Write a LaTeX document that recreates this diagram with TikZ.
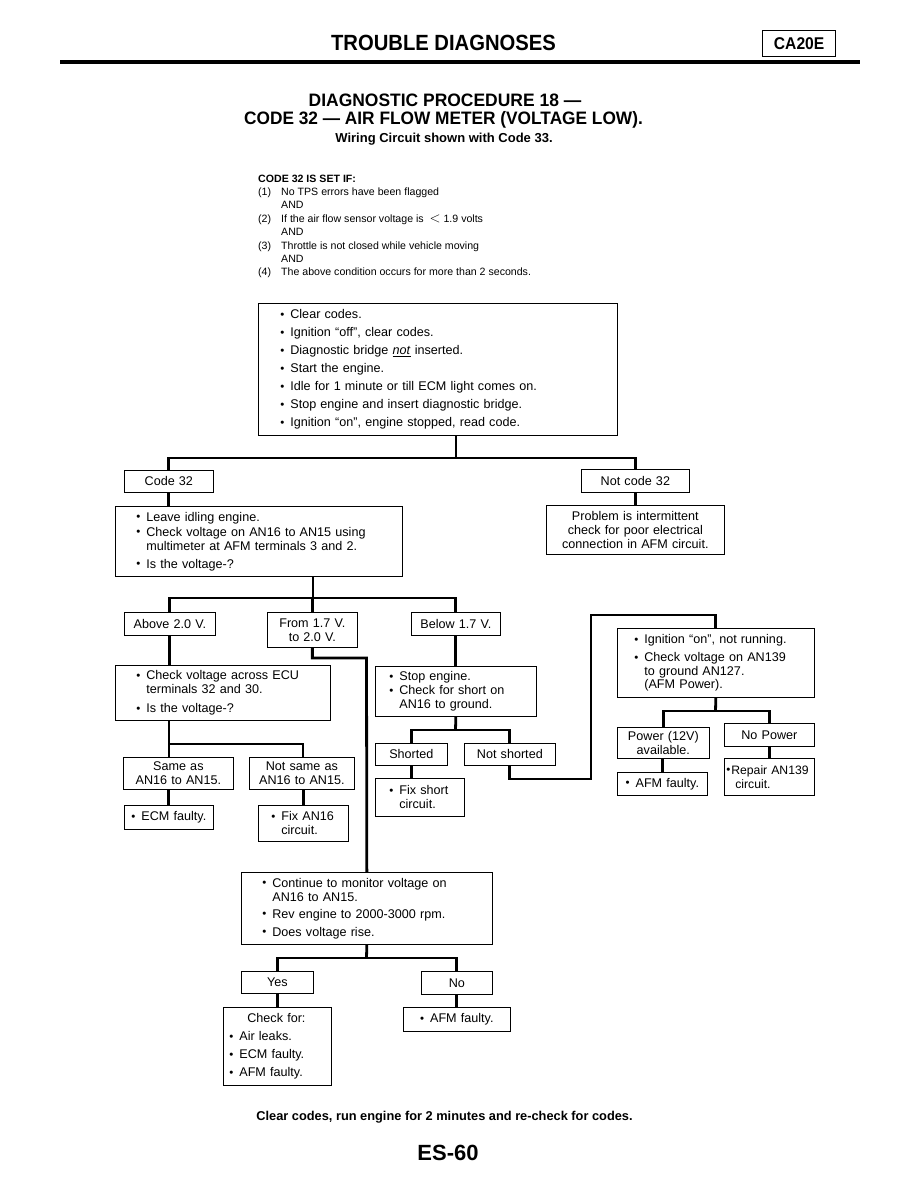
\documentclass[tikz,border=0pt]{standalone}
\usepackage{fontspec}
\setmainfont{Liberation Sans}
\newcommand\fz[2]{\fontsize{#1}{#2}\selectfont}
\newcommand\bul{\makebox[10pt][l]{\raisebox{0.4pt}{\fontsize{11.5}{11.5}\selectfont •}}}
\newcommand\ind{\hspace*{10pt}}
\tikzset{
  box/.style={draw, line width=0.7pt, inner ysep=0pt, anchor=north west, font=\fz{12.6}{14}},
  lbox/.style={box, align=left},
  cbox/.style={box, align=center, inner xsep=2pt},
  conn/.style={line width=2.8pt, line join=miter},
  cond/.style={anchor=base west, inner sep=0pt, font=\fz{10.6}{10.6}},
}
\begin{document}
\begin{tikzpicture}[x=1pt,y=-1pt]
\useasboundingbox (0,0) rectangle (918,1188);
\fill[white] (0,0) rectangle (918,1188);

% header
\node[font=\bfseries\fz{22}{22}] (hdr) at (443.5,43) {\scalebox{0.92}[1]{TROUBLE DIAGNOSES}};
\node[draw, line width=1.3pt, minimum width=73pt, minimum height=26pt, inner sep=0pt, anchor=north west, font=\bfseries\fz{17}{17}] (ca) at (762,30) {\scalebox{0.92}[1]{CA20E}};
\coordinate (r1) at (60,62); \coordinate (r2) at (860,62);
\draw[line width=3.2pt] (r1) -- (r2);

\node[font=\bfseries\fz{18}{18}] (t1) at (445,100) {\scalebox{0.97}[1]{DIAGNOSTIC PROCEDURE 18 —}};
\node[font=\bfseries\fz{18}{18}] (t2) at (443.5,120) {\scalebox{0.96}[1]{CODE 32 — AIR FLOW METER (VOLTAGE LOW).}};
\node[font=\bfseries\fz{13}{13}] (t3) at (444,139) {Wiring Circuit shown with Code 33.};

% conditions
\node[cond, font=\bfseries\fz{10.6}{10.6}] (c0) at (258,182) {CODE 32 IS SET IF:};
\node[cond] (n1) at (258,195) {(1)}; \node[cond] (l1) at (281,195) {No TPS errors have been flagged};
\node[cond] (a1) at (281,208) {AND};
\node[cond] (n2) at (258,222) {(2)}; \node[cond] (l2) at (281,222) {If the air flow sensor voltage is \ {\fz{14}{14}$<$}\ 1.9 volts};
\node[cond] (a2) at (281,235) {AND};
\node[cond] (n3) at (258,249) {(3)}; \node[cond] (l3) at (281,249) {Throttle is not closed while vehicle moving};
\node[cond] (a3) at (281,262) {AND};
\node[cond] (n4) at (258,275) {(4)}; \node[cond] (l4) at (281,275) {The above condition occurs for more than 2 seconds.};

% boxes
\node[lbox, font=\fz{12.6}{18}, minimum width=359pt, minimum height=132pt, inner xsep=22pt, text width=315pt] (box1) at (258,303)
 {\bul Clear codes.\\ \bul Ignition “off”, clear codes.\\ \bul Diagnostic bridge \underline{\textit{not}} inserted.\\ \bul Start the engine.\\ \bul Idle for 1 minute or till ECM light comes on.\\ \bul Stop engine and insert diagnostic bridge.\\ \bul Ignition “on”, engine stopped, read code.};

\node[cbox, minimum width=89pt, minimum height=22pt, text width=85pt] (code32) at (124,470) {Code 32};
\node[cbox, minimum width=108pt, minimum height=23pt, text width=104pt] (notcode) at (581,469) {Not code 32};

\node[lbox, minimum width=287pt, minimum height=70pt, inner xsep=21pt, text width=245pt] (box2) at (115,506)
 {\bul Leave idling engine.\\[1pt] \bul Check voltage on AN16 to AN15 using\\ \ind multimeter at AFM terminals 3 and 2.\\[4pt] \bul Is the voltage-?};
\node[cbox, minimum width=178pt, minimum height=49pt, text width=174pt] (problem) at (546,505)
 {Problem is intermittent\\check for poor electrical\\connection in AFM circuit.};

\node[cbox, minimum width=91pt, minimum height=23pt, text width=87pt] (above) at (124,612) {Above 2.0 V.};
\node[cbox, minimum width=90pt, minimum height=35pt, text width=86pt] (from) at (267,612) {From 1.7 V.\\to 2.0 V.};
\node[cbox, minimum width=89pt, minimum height=23pt, text width=85pt] (below) at (411,612) {Below 1.7 V.};

\node[lbox, minimum width=215pt, minimum height=55pt, inner xsep=21pt, text width=173pt] (ecu) at (115,665)
 {\bul Check voltage across ECU\\ \ind terminals 32 and 30.\\[5pt] \bul Is the voltage-?};
\node[lbox, minimum width=161pt, minimum height=50pt, inner xsep=14pt, text width=133pt] (stop) at (375,666)
 {\bul Stop engine.\\ \bul Check for short on\\ \ind AN16 to ground.};

\node[cbox, minimum width=110pt, minimum height=32pt, text width=106pt] (same) at (123,757) {Same as\\AN16 to AN15.};
\node[cbox, minimum width=105pt, minimum height=32pt, text width=101pt] (notsame) at (249,757) {Not same as\\AN16 to AN15.};
\node[cbox, minimum width=89pt, minimum height=24pt, text width=85pt] (ecm) at (124,805) {\bul ECM faulty.};
\node[lbox, minimum width=90pt, minimum height=36pt, inner xsep=13pt, text width=64pt] (fix16) at (258,805) {\bul Fix AN16\\ \ind circuit.};

\node[cbox, minimum width=72pt, minimum height=22pt, text width=68pt] (shorted) at (375,743) {Shorted};
\node[cbox, minimum width=91pt, minimum height=22pt, text width=87pt] (notshorted) at (464,743) {Not shorted};
\node[lbox, minimum width=89pt, minimum height=38pt, inner xsep=14pt, text width=61pt] (fixshort) at (375,778) {\bul Fix short\\ \ind circuit.};

\node[lbox, font=\fz{12.6}{13.5}, minimum width=197pt, minimum height=69pt, inner xsep=17pt, text width=163pt] (ign) at (617,628)
 {\bul Ignition “on”, not running.\\[4.5pt] \bul Check voltage on AN139\\ \ind to ground AN127.\\ \ind (AFM Power).};
\node[cbox, minimum width=92pt, minimum height=31pt, text width=88pt] (power) at (617,727) {Power (12V)\\available.};
\node[cbox, minimum width=90pt, minimum height=23pt, text width=86pt] (nopower) at (724,723) {No Power};
\node[cbox, minimum width=90pt, minimum height=23pt, text width=86pt] (afm1) at (617,772) {\bul AFM faulty.};
\node[lbox, font=\fz{12.2}{14}, minimum width=90pt, minimum height=37pt, inner xsep=2pt, text width=86pt] (repair) at (724,758)
 {\mbox{\makebox[5pt][l]{\raisebox{0.4pt}{\fontsize{11.5}{11.5}\selectfont •}}Repair AN139}\\ \hspace*{9pt}circuit.};

\node[lbox, minimum width=251pt, minimum height=72pt, inner xsep=21pt, text width=209pt] (cont) at (241,872)
 {\bul Continue to monitor voltage on\\ \ind AN16 to AN15.\\[3pt] \bul Rev engine to 2000-3000 rpm.\\[4pt] \bul Does voltage rise.};
\node[cbox, minimum width=72pt, minimum height=22pt, text width=68pt] (yes) at (241,971) {Yes};
\node[cbox, minimum width=71pt, minimum height=23pt, text width=67pt] (no) at (421,971) {No};
\node[lbox, font=\fz{12.6}{18}, minimum width=108pt, minimum height=78pt, inner xsep=6pt, text width=96pt] (check) at (223,1007)
 {\hspace*{18pt}Check for:\\ \bul Air leaks.\\ \bul ECM faulty.\\ \bul AFM faulty.};
\node[cbox, minimum width=107pt, minimum height=24pt, text width=103pt] (afm2) at (403,1007) {\bul AFM faulty.};

% footer
\node[font=\bfseries\fz{12.8}{12.8}] (foot) at (444.5,1117) {Clear codes, run engine for 2 minutes and re-check for codes.};
\node[font=\bfseries\fz{22}{22}] (pg) at (448,1153) {ES-60};

% junctions
\coordinate (j1) at (456,458);
\coordinate (j2) at (313,598);
\coordinate (j3) at (366.5,658);
\coordinate (j4) at (169,744);
\coordinate (j5) at (303,744);
\coordinate (j6) at (455.5,730);
\coordinate (j7) at (591,779);
\coordinate (j8) at (591,615);
\coordinate (j9) at (715.5,711);
\coordinate (j10) at (366.5,958);

% connectors
\draw[conn] (box1.south -| j1) -- (j1);
\draw[conn] (code32.north) -- (code32.north |- j1) -- (notcode.north |- j1) -- (notcode.north);
\draw[conn] (code32.south) -- (code32.south |- box2.north);
\draw[conn] (notcode.south) -- (notcode.south |- problem.north);
\draw[conn] (box2.south -| j2) -- (j2);
\draw[conn] (above.north) -- (above.north |- j2) -- (below.north |- j2) -- (below.north);
\draw[conn] (from.north) -- (from.north |- j2);
\draw[conn] (from.south) |- (j3) -- (cont.north);
\draw[conn] (above.south) -- (above.south |- ecu.north);
\draw[conn] (ecu.south -| j4) -- (j4) -- (j5) -- (notsame.north -| j5);
\draw[conn] (j4) -- (same.north -| j4);
\draw[conn] (same.south -| ecm.north) -- (ecm.north);
\draw[conn] (notsame.south -| fix16.north) -- (fix16.north);
\draw[conn] (below.south) -- (stop.north);
\draw[conn] (stop.south) -- (j6);
\draw[conn] (shorted.north) -- (shorted.north |- j6) -- (notshorted.north |- j6) -- (notshorted.north);
\draw[conn] (shorted.south) -- (shorted.south |- fixshort.north);
\draw[conn] (notshorted.south) |- (j7) -- (j8) -- (ign.north |- j8) -- (ign.north);
\draw[conn] (ign.south) -- (j9);
\draw[conn] (power.north) -- (power.north |- j9) -- (nopower.north |- j9) -- (nopower.north);
\draw[conn] (power.south -| afm1.north) -- (afm1.north);
\draw[conn] (nopower.south -| repair.north) -- (repair.north);
\draw[conn] (cont.south) -- (j10);
\draw[conn] (yes.north) -- (yes.north |- j10) -- (no.north |- j10) -- (no.north);
\draw[conn] (yes.south) -- (check.north);
\draw[conn] (no.south) -- (afm2.north);
\end{tikzpicture}
\end{document}
